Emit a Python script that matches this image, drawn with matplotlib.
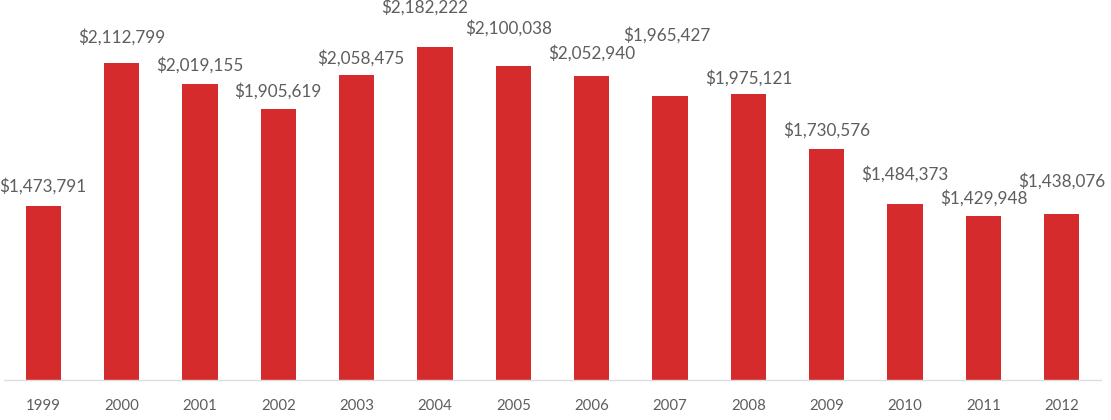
import matplotlib
matplotlib.use("Agg")
import matplotlib.pyplot as plt

years = ["1999", "2000", "2001", "2002", "2003", "2004", "2005",
         "2006", "2007", "2008", "2009", "2010", "2011", "2012"]
values = [1473791, 2112799, 2019155, 1905619, 2058475, 2182222, 2100038,
          2052940, 1965427, 1975121, 1730576, 1484373, 1429948, 1438076]

# label offsets from bar top (pixels)
label_dx = [0, 0, 0, 0, 4, -10, -5, 0, -3, 0, 0, 0, 0, 0]
label_dy = [20, 26, 19, 18, 17, 40, 38, 23, 61, 16, 18, 30, 18, 33]

BAR = "#D52B2D"
TXT = "#5E5E5E"
FONT = ["Lato", "DejaVu Sans"]

fig = plt.figure(figsize=(11.11, 4.2), dpi=100)
ax = fig.add_axes([4 / 1111, 40 / 420, 1097 / 1111, 380 / 420])

x = list(range(len(years)))
ax.bar(x, values, width=0.45, color=BAR, zorder=2)
ax.set_xlim(-0.5, len(years) - 0.5)
ax.set_ylim(700000, 2393000)

for xi, v, dx, dy in zip(x, values, label_dx, label_dy):
    ax.annotate(f"${v:,}", xy=(xi, v), xytext=(dx, dy), textcoords="offset pixels",
                ha="center", va="center", fontsize=12.3, color=TXT, family=FONT,
                annotation_clip=False)

ax.set_xticks(x)
ax.set_xticklabels(years, fontsize=10.8, color=TXT, family=FONT)
ax.tick_params(axis="x", length=0, pad=14)
ax.set_yticks([])
for s in ["top", "right", "left"]:
    ax.spines[s].set_visible(False)
ax.spines["bottom"].set_color("#DDDDDD")
ax.spines["bottom"].set_linewidth(1)

fig.savefig("out.png", dpi=100)
